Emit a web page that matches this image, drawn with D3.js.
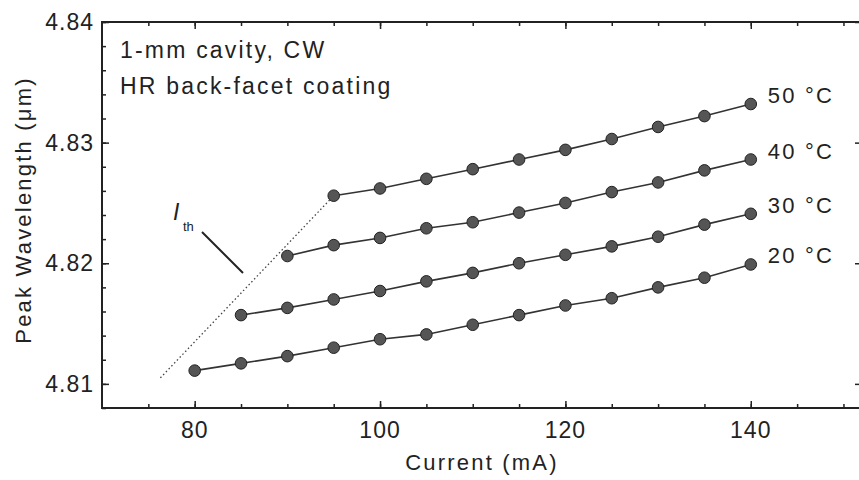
<!DOCTYPE html>
<html>
<head>
<meta charset="utf-8">
<script src="https://cdn.jsdelivr.net/npm/d3@7"></script>
<style>
body{margin:0;background:#fff}
svg text{font-family:"Liberation Sans",Arial,sans-serif;fill:#222}
</style>
</head>
<body>
<svg id="chart"></svg>
<script>
// data
var temps = ["20 °C","30 °C","40 °C","50 °C"];
var cur20 = [80,85,90,95,100,105,110,115,120,125,130,135,140];
var wl20 = [4.8111,4.8117,4.8123,4.8130,4.8137,4.8141,4.8149,4.8157,4.8165,4.8171,4.8180,4.8188,4.8199];
var cur30 = [85,90,95,100,105,110,115,120,125,130,135,140];
var wl30 = [4.8157,4.8163,4.8170,4.8177,4.8185,4.8192,4.8200,4.8207,4.8214,4.8222,4.8232,4.8241];
var cur40 = [90,95,100,105,110,115,120,125,130,135,140];
var wl40 = [4.8206,4.8215,4.8221,4.8229,4.8234,4.8242,4.8250,4.8259,4.8267,4.8277,4.8286];
var cur50 = [95,100,105,110,115,120,125,130,135,140];
var wl50 = [4.8256,4.8262,4.8270,4.8278,4.8286,4.8294,4.8303,4.8313,4.8322,4.8332];
var ithCur = [76.3,95];
var ithWl = [4.8105,4.8256];
var xTicks = [80,100,120,140];
var yTicks = [4.81,4.82,4.83,4.84];
var notes = ["1-mm cavity, CW","HR back-facet coating"];

var W = 859, H = 480;
var pLeft = 102, pRight = 862, pTop = 22, pBottom = 408;

var svg = d3.select("#chart").attr("width",W).attr("height",H)

var x = d3.scaleLinear().domain([70,152]).range([pLeft,pRight]);
var y = d3.scaleLinear().domain([4.808,4.84]).range([pBottom,pTop]);

var series = [
  {name:temps[0], c:cur20, w:wl20},
  {name:temps[1], c:cur30, w:wl30},
  {name:temps[2], c:cur40, w:wl40},
  {name:temps[3], c:cur50, w:wl50}
];

// axes, ticks inward on all four sides
var xMinor = d3.range(75,152,5);
var yMinor = d3.range(4.808,4.8401,0.002);
function frame(){
  svg.append("g").attr("transform","translate(0,"+pBottom+")")
    .call(d3.axisTop(x).tickValues(xMinor).tickSize(4).tickFormat(""))
    .call(g=>g.select(".domain").remove())
  svg.append("g").attr("transform","translate(0,"+pBottom+")")
    .call(d3.axisTop(x).tickValues(xTicks).tickSize(7).tickFormat(""))
    .call(g=>g.select(".domain").remove())
  svg.append("g").attr("transform","translate(0,"+pTop+")")
    .call(d3.axisBottom(x).tickValues(xMinor).tickSize(4).tickFormat(""))
    .call(g=>g.select(".domain").remove())
  svg.append("g").attr("transform","translate(0,"+pTop+")")
    .call(d3.axisBottom(x).tickValues(xTicks).tickSize(7).tickFormat(""))
    .call(g=>g.select(".domain").remove())
  svg.append("g").attr("transform","translate("+pLeft+",0)")
    .call(d3.axisRight(y).tickValues(yMinor).tickSize(4).tickFormat(""))
    .call(g=>g.select(".domain").remove())
  svg.append("g").attr("transform","translate("+pLeft+",0)")
    .call(d3.axisRight(y).tickValues(yTicks).tickSize(7).tickFormat(""))
    .call(g=>g.select(".domain").remove())
  svg.append("g").attr("transform","translate("+pRight+",0)")
    .call(d3.axisLeft(y).tickValues(yTicks).tickSize(7).tickFormat(""))
    .call(g=>g.select(".domain").remove())
  svg.selectAll(".tick line").attr("stroke","#222").attr("stroke-width",1.5)
  svg.append("rect").attr("x",pLeft).attr("y",pTop).attr("width",pRight-pLeft).attr("height",pBottom-pTop)
    .attr("fill","none").attr("stroke","#222").attr("stroke-width",2)
}
frame()

// tick labels
svg.append("g").selectAll("text").data(xTicks).join("text")
  .attr("x",d=>x(d)).attr("y",438).attr("text-anchor","middle")
  .style("font-size","23px").style("letter-spacing","1px").text(d=>d)
svg.append("g").selectAll("text").data(yTicks).join("text")
  .attr("x",94).attr("y",d=>y(d)+8).attr("text-anchor","end")
  .style("font-size","23px").style("letter-spacing","1px").text(d=>d3.format(".2f")(d))

svg.append("text").attr("x",482).attr("y",470).attr("text-anchor","middle")
  .style("font-size","22px").style("letter-spacing","2.2px").text("Current (mA)")
svg.append("text").attr("transform","translate(31,210) rotate(-90)").attr("text-anchor","middle")
  .style("font-size","22px").style("letter-spacing","2.2px").text("Peak Wavelength (μm)")

svg.append("g").selectAll("text").data(notes).join("text")
  .attr("x",120).attr("y",(d,i)=>58+i*36)
  .style("font-size","23px").style("letter-spacing","2.2px").text(d=>d)

// threshold line
var line = d3.line().x(d=>x(d[0])).y(d=>y(d[1]));
svg.append("path").datum(ithCur.map((c,i)=>[c,ithWl[i]])).attr("d",line)
  .attr("fill","none").attr("stroke","#444").attr("stroke-width",1.3).attr("stroke-dasharray","1.5,2.5")

// data series
series.forEach(function(s){
  var pts = s.c.map((c,i)=>[c,s.w[i]]);
  svg.append("path").datum(pts).attr("d",line)
    .attr("fill","none").attr("stroke","#333").attr("stroke-width",1.6)
  svg.append("g").selectAll("circle").data(pts).join("circle")
    .attr("cx",d=>x(d[0])).attr("cy",d=>y(d[1])).attr("r",5.8)
    .attr("fill","#555").attr("stroke","#222").attr("stroke-width",1)
  var last = pts[pts.length-1];
  svg.append("text").attr("x",x(last[0])+17).attr("y",y(last[1])-1)
    .style("font-size","22px").style("letter-spacing","2.2px").text(s.name)
})

// I_th label with leader
svg.append("text").attr("x",173).attr("y",220).style("font-size","23px").style("font-style","italic").text("I")
svg.append("text").attr("x",183).attr("y",231).style("font-size","13px").style("fill","#222").text("th")
svg.append("line").attr("x1",202).attr("y1",232).attr("x2",243).attr("y2",273)
  .attr("stroke","#222").attr("stroke-width",2)
</script>
</body>
</html>
